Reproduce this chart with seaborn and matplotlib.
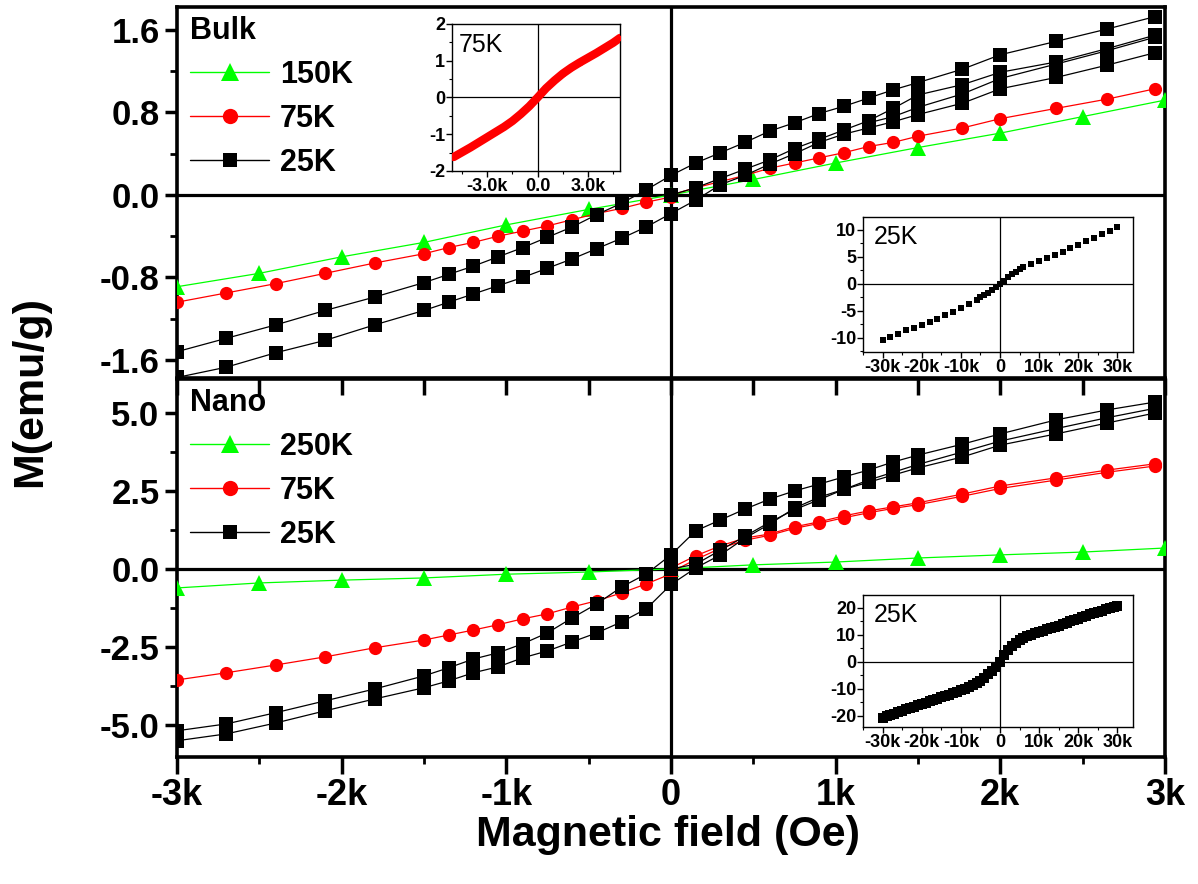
import numpy as np
import pandas as pd
import seaborn as sns
import matplotlib.pyplot as plt
from matplotlib.lines import Line2D
from matplotlib.ticker import MultipleLocator

sns.set_style("white")
plt.rcParams['font.family'] = ['Liberation Sans', 'DejaVu Sans']
plt.rcParams['font.weight'] = 'bold'
plt.rcParams['text.color'] = 'black'
plt.rcParams['axes.labelcolor'] = 'black'
plt.rcParams['xtick.color'] = 'black'
plt.rcParams['ytick.color'] = 'black'

# ---- main panels: field values (Oe) ----
H_neg = [-3000, -2700, -2400, -2100, -1800, -1500, -1350, -1200, -1050, -900, -750, -600, -450, -300, -150, 0]
H_pos = [0, 150, 300, 450, 600, 750, 900, 1050, 1200, 1350, 1500, 1770, 2000, 2340, 2650, 2940]
H_500 = [-3000, -2500, -2000, -1500, -1000, -500, 0, 500, 1000, 1500, 2000, 2500, 3000]
H_tail = [1200, 1350, 1500, 1770, 2000, 2340, 2650, 2940]

# Bulk
bulk_150K = [-0.89, -0.76, -0.60, -0.46, -0.29, -0.14, 0.0, 0.15, 0.31, 0.46, 0.60, 0.76, 0.92]
bulk_75K_neg = [-1.04, -0.95, -0.86, -0.76, -0.66, -0.57, -0.51, -0.46, -0.40, -0.35, -0.30, -0.24, -0.18, -0.13, -0.07, -0.02]
bulk_75K_pos = [0.0, 0.07, 0.13, 0.19, 0.26, 0.31, 0.36, 0.41, 0.47, 0.51, 0.57, 0.65, 0.74, 0.84, 0.93, 1.03]
bulk_25K_up_neg = [-1.52, -1.39, -1.26, -1.12, -0.99, -0.85, -0.77, -0.69, -0.60, -0.51, -0.41, -0.31, -0.19, -0.08, 0.05, 0.19]
bulk_25K_up_pos = [0.19, 0.31, 0.41, 0.51, 0.62, 0.70, 0.79, 0.86, 0.94, 1.02, 1.09, 1.22, 1.36, 1.49, 1.61, 1.73]
bulk_25K_lo_neg = [-1.77, -1.67, -1.53, -1.41, -1.26, -1.12, -1.04, -0.96, -0.88, -0.80, -0.71, -0.62, -0.52, -0.42, -0.31, -0.18]
bulk_25K_lo_pos = [-0.18, -0.05, 0.10, 0.19, 0.30, 0.40, 0.51, 0.59, 0.65, 0.71, 0.78, 0.89, 1.03, 1.14, 1.26, 1.38]
bulk_25K_virgin = [0.0, 0.07, 0.16, 0.25, 0.34, 0.45, 0.54, 0.63, 0.72, 0.84, 0.97, 1.07, 1.19, 1.29, 1.42, 1.55]
bulk_25K_tail = [0.70, 0.76, 0.85, 0.98, 1.13, 1.27, 1.40, 1.53]

# Nano
nano_250K = [-0.61, -0.45, -0.36, -0.29, -0.17, -0.10, 0.0, 0.13, 0.22, 0.35, 0.45, 0.54, 0.67]
nano_75K_neg = [-3.56, -3.33, -3.08, -2.82, -2.53, -2.28, -2.12, -1.96, -1.79, -1.60, -1.44, -1.22, -1.02, -0.77, -0.48, -0.16]
nano_75K_pos = [0.03, 0.42, 0.74, 0.99, 1.12, 1.35, 1.51, 1.70, 1.86, 1.99, 2.12, 2.40, 2.66, 2.92, 3.17, 3.37]
nano_75K_pos2 = [-0.10, 0.30, 0.66, 0.92, 1.08, 1.30, 1.46, 1.64, 1.80, 1.94, 2.06, 2.33, 2.58, 2.85, 3.10, 3.30]
nano_25K_up_neg = [-5.19, -4.97, -4.61, -4.23, -3.85, -3.43, -3.17, -2.89, -2.69, -2.40, -2.05, -1.57, -1.12, -0.58, -0.16, 0.45]
nano_25K_up_pos = [0.45, 1.22, 1.57, 1.92, 2.24, 2.50, 2.72, 2.95, 3.17, 3.43, 3.65, 4.00, 4.33, 4.78, 5.10, 5.35]
nano_25K_lo_neg = [-5.51, -5.29, -4.94, -4.55, -4.17, -3.81, -3.59, -3.33, -3.14, -2.85, -2.63, -2.34, -2.05, -1.70, -1.28, -0.50]
nano_25K_lo_pos = [-0.50, 0.03, 0.45, 0.99, 1.44, 1.95, 2.30, 2.55, 2.78, 3.01, 3.24, 3.59, 3.97, 4.33, 4.68, 5.00]
nano_25K_virgin = [0.0, 0.15, 0.60, 1.05, 1.50, 1.90, 2.22, 2.55, 2.85, 3.10, 3.35, 3.75, 4.10, 4.50, 4.85, 5.15]

# ---- insets ----
in75_H = [-5000, -4500, -4000, -3500, -3000, -2500, -2000, -1500, -1000, -500, 0,
          500, 1000, 1500, 2000, 2500, 3000, 3500, 4000, 4500, 4900]
in75_M = [-1.62, -1.49, -1.36, -1.22, -1.08, -0.94, -0.80, -0.64, -0.45, -0.24, 0.0,
          0.25, 0.46, 0.65, 0.81, 0.95, 1.08, 1.21, 1.35, 1.49, 1.62]

inb_H = [-30000, -28000, -26000, -24000, -22000, -20000, -18000, -16000, -14000, -12000, -10000,
         -8000, -6000, -5000, -4000, -3000, -2000, -1000, 0, 1000, 2000, 3000, 4000, 5000,
         6000, 8000, 10000, 12000, 14000, 16000, 18000, 20000, 22000, 24000, 26000, 28000, 30000]
inb_M = [-10.4, -9.8, -9.2, -8.6, -8.1, -7.6, -7.0, -6.4, -5.8, -5.1, -4.5,
         -3.8, -3.0, -2.5, -2.1, -1.6, -1.1, -0.5, 0.0, 0.6, 1.2, 1.8, 2.3, 2.7,
         3.1, 3.7, 4.2, 4.8, 5.4, 6.0, 6.6, 7.3, 7.9, 8.5, 9.2, 9.8, 10.5]

inn_H = [-30000, -29000, -28000, -27000, -26000, -25000, -24000, -23000, -22000, -21000,
         -20000, -19000, -18000, -17000, -16000, -15000, -14000, -13000, -12000, -11000,
         -10000, -9000, -8000, -7000, -6000, -5000, -4000, -3000, -2000, -1000, 0,
         1000, 2000, 3000, 4000, 5000, 6000, 7000, 8000, 9000, 10000,
         11000, 12000, 13000, 14000, 15000, 16000, 17000, 18000, 19000, 20000,
         21000, 22000, 23000, 24000, 25000, 26000, 27000, 28000, 29000, 30000]
inn_M = [-20.6, -20.1, -19.6, -19.1, -18.6, -18.1, -17.6, -17.1, -16.6, -16.1,
         -15.6, -15.1, -14.6, -14.1, -13.6, -13.1, -12.6, -12.1, -11.6, -11.0,
         -10.5, -9.9, -9.3, -8.6, -7.8, -6.9, -5.8, -4.5, -3.2, -1.8, 0.0,
         2.5, 4.3, 5.8, 7.0, 8.0, 8.8, 9.5, 10.1, 10.6, 11.1,
         11.6, 12.1, 12.6, 13.0, 13.5, 14.0, 14.5, 15.0, 15.6, 16.1,
         16.6, 17.1, 17.6, 18.1, 18.6, 19.0, 19.5, 20.0, 20.4, 20.9]

GREEN, RED, BLACK = '#00ff00', '#ff0000', '#000000'


def branch(ax, h, m, color, marker, ms=9.5, lw=0.9):
    sns.lineplot(x=h, y=m, ax=ax, sort=False, estimator=None, color=color, lw=lw,
                 marker=marker, markersize=ms, markeredgewidth=0, legend=False, zorder=3)


fig = plt.figure(figsize=(11.98, 8.84), dpi=100)
ax2 = fig.add_axes([0.1477, 0.1437, 0.8248, 0.4276])
ax1 = fig.add_axes([0.1477, 0.5724, 0.8248, 0.4197], facecolor='none')
ax1.set_zorder(3)
ax2.set_zorder(2)

# bulk panel
branch(ax1, H_500, bulk_150K, GREEN, '^', 11)
branch(ax1, H_neg + H_pos, bulk_75K_neg + bulk_75K_pos, RED, 'o')
branch(ax1, H_neg + H_pos[1:], bulk_25K_up_neg + bulk_25K_up_pos[1:], BLACK, 's')
branch(ax1, H_neg + H_pos[1:], bulk_25K_lo_neg + bulk_25K_lo_pos[1:], BLACK, 's')
branch(ax1, H_pos, bulk_25K_virgin, BLACK, 's')
branch(ax1, H_tail, bulk_25K_tail, BLACK, 's')

# nano panel
branch(ax2, H_500, nano_250K, GREEN, '^', 11)
branch(ax2, H_neg + H_pos, nano_75K_neg + nano_75K_pos, RED, 'o')
branch(ax2, H_pos, nano_75K_pos2, RED, 'o')
branch(ax2, H_neg + H_pos[1:], nano_25K_up_neg + nano_25K_up_pos[1:], BLACK, 's')
branch(ax2, H_neg + H_pos[1:], nano_25K_lo_neg + nano_25K_lo_pos[1:], BLACK, 's')
branch(ax2, H_pos, nano_25K_virgin, BLACK, 's')

for ax in (ax1, ax2):
    ax.set_xlim(-3000, 3000)
    ax.axhline(0, color='k', lw=2.3, zorder=2)
    ax.axvline(0, color='k', lw=2.3, zorder=2)
    for s in ax.spines.values():
        s.set_linewidth(2.6)
        s.set_color('k')
    ax.tick_params(axis='both', which='major', direction='out', length=9, width=2.5,
                   labelsize=25, colors='k', left=True, bottom=True)
    ax.tick_params(axis='both', which='minor', direction='out', length=5, width=2,
                   left=True, bottom=True)
    ax.set_xlabel('')
    ax.set_ylabel('')

ax1.set_ylim(-1.775, 1.823)
ax1.set_yticks([-1.6, -0.8, 0.0, 0.8, 1.6], ['-1.6', '-0.8', '0.0', '0.8', '1.6'])
ax1.yaxis.set_minor_locator(MultipleLocator(0.4))
ax1.set_xticks(np.arange(-3000, 3001, 500))
ax1.tick_params(axis='x', which='major', labelbottom=False, length=12, bottom=True)

ax2.set_ylim(-6.03, 6.09)
ax2.set_yticks([-5.0, -2.5, 0.0, 2.5, 5.0], ['-5.0', '-2.5', '0.0', '2.5', '5.0'])
ax2.yaxis.set_minor_locator(MultipleLocator(1.25))
ax2.set_xticks([-3000, -2000, -1000, 0, 1000, 2000, 3000],
               ['-3k', '-2k', '-1k', '0', '1k', '2k', '3k'])
ax2.xaxis.set_minor_locator(MultipleLocator(500))
ax2.tick_params(axis='x', which='major', length=12, labelsize=26, pad=3)

# legends
def leg_handles():
    return [Line2D([], [], color=GREEN, marker='^', ms=13, lw=1, mew=0),
            Line2D([], [], color=RED, marker='o', ms=11, lw=1, mew=0),
            Line2D([], [], color=BLACK, marker='s', ms=9.5, lw=1, mew=0)]

for ax, title, labels in ((ax1, 'Bulk', ['150K', '75K', '25K']),
                          (ax2, 'Nano', ['250K', '75K', '25K'])):
    ax.legend(leg_handles(), labels, loc='upper left', bbox_to_anchor=(0.013, 0.975),
              frameon=False, title=title, alignment='left',
              title_fontproperties={'weight': 'bold', 'size': 22},
              prop={'weight': 'bold', 'size': 22}, handlelength=2.6,
              handletextpad=0.35, labelspacing=0.45, borderpad=0, borderaxespad=0)


# insets
def inset(rect, h, m, color, marker, ms, lw, label):
    ia = fig.add_axes(rect)
    ia.set_zorder(5)
    ia.set_facecolor('white')
    ia.axhline(0, color='k', lw=0.9, zorder=1)
    ia.axvline(0, color='k', lw=0.9, zorder=1)
    branch(ia, h, m, color, marker, ms, lw)
    for s in ia.spines.values():
        s.set_linewidth(1.0)
        s.set_color('k')
    ia.tick_params(axis='both', which='major', direction='out', length=4, width=1,
                   labelsize=13, pad=1, left=True, bottom=True)
    ia.tick_params(axis='both', which='minor', direction='out', length=2.5, width=0.8,
                   left=True, bottom=True)
    ia.text(0.04, 0.94, label, transform=ia.transAxes, fontsize=18, fontweight='normal',
            va='top', ha='left')
    ia.set_xlabel('')
    ia.set_ylabel('')
    return ia


i1 = inset([0.3773, 0.8066, 0.1402, 0.1663], in75_H, in75_M, RED, 'o', 4, 6, '75K')
i1.set_xlim(-5100, 4900)
i1.set_ylim(-2, 2)
i1.set_xticks([-3000, 0, 3000], ['-3.0k', '0.0', '3.0k'])
i1.set_yticks([-2, -1, 0, 1, 2], ['-2', '-1', '0', '1', '2'])
i1.xaxis.set_minor_locator(MultipleLocator(1500))
i1.yaxis.set_minor_locator(MultipleLocator(0.5))

k_ticks = [-30000, -20000, -10000, 0, 10000, 20000, 30000]
k_labels = ['-30k', '-20k', '-10k', '0', '10k', '20k', '30k']

i2 = inset([0.7204, 0.6018, 0.2254, 0.1527], inb_H, inb_M, BLACK, 's', 4, 0, '25K')
i2.set_xlim(-35000, 34000)
i2.set_ylim(-12.6, 12.4)
i2.set_xticks(k_ticks, k_labels)
i2.set_yticks([-10, -5, 0, 5, 10], ['-10', '-5', '0', '5', '10'])
i2.xaxis.set_minor_locator(MultipleLocator(5000))
i2.yaxis.set_minor_locator(MultipleLocator(2.5))

i3 = inset([0.7204, 0.1776, 0.2254, 0.1493], inn_H, inn_M, BLACK, 's', 6.5, 0, '25K')
i3.set_xlim(-35000, 34000)
i3.set_ylim(-24.1, 24.8)
i3.set_xticks(k_ticks, k_labels)
i3.set_yticks([-20, -10, 0, 10, 20], ['-20', '-10', '0', '10', '20'])
i3.xaxis.set_minor_locator(MultipleLocator(5000))
i3.yaxis.set_minor_locator(MultipleLocator(5))

fig.text(0.025, 0.5566, 'M(emu/g)', rotation=90, fontsize=31, fontweight='bold',
         ha='center', va='center')
fig.text(0.5576, 0.0554, 'Magnetic field (Oe)', fontsize=31, fontweight='bold',
         ha='center', va='center')

fig.savefig('out.png', dpi=100)
